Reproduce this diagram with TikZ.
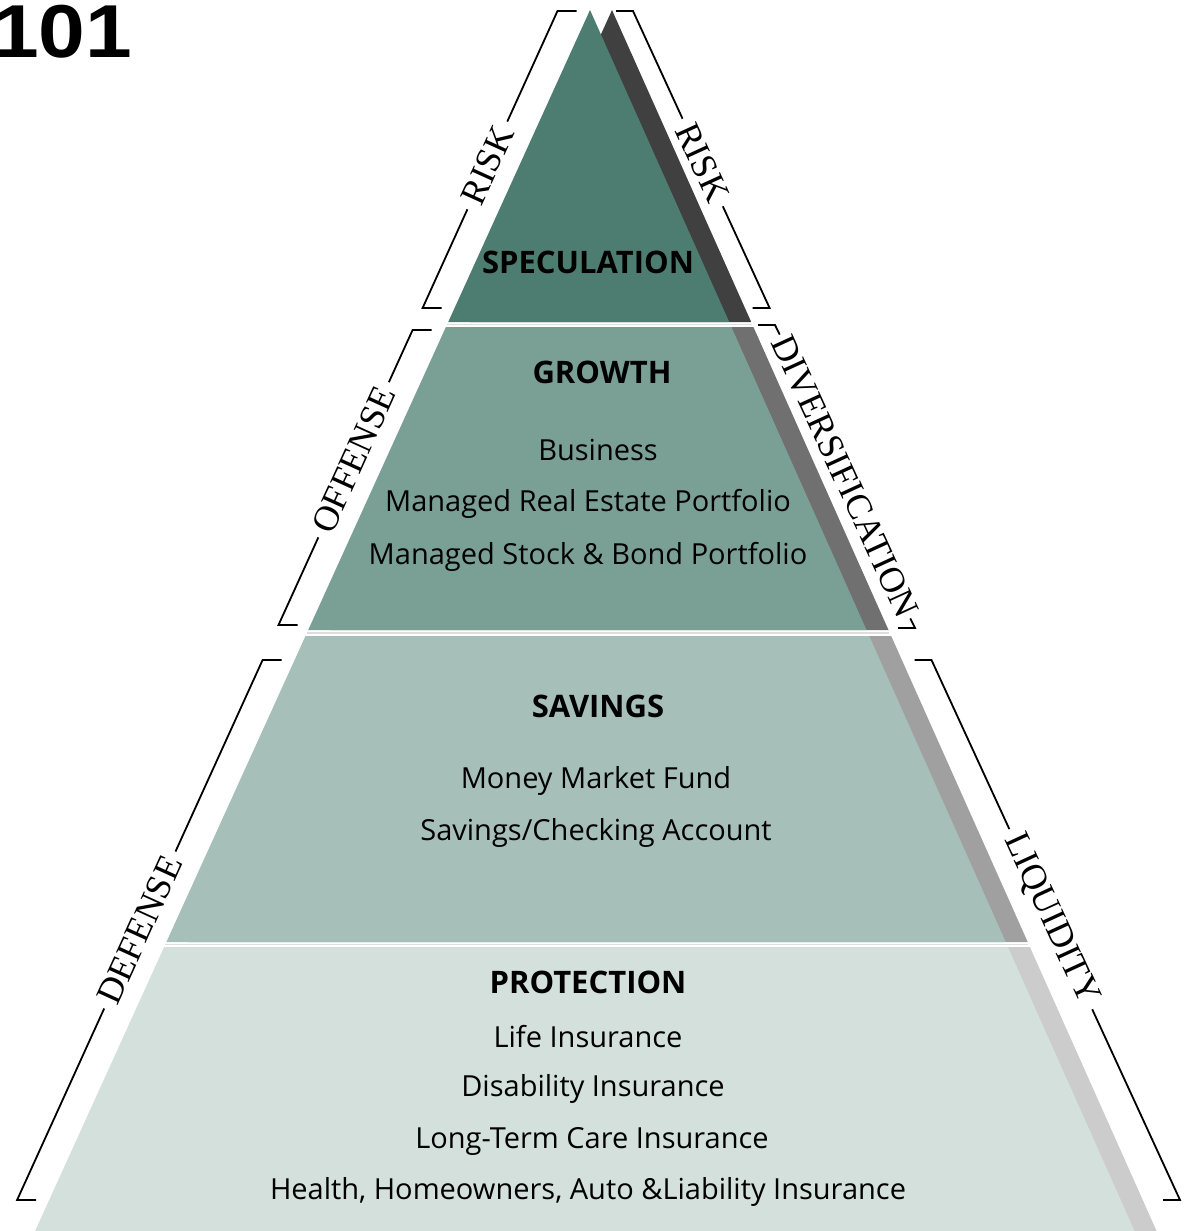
\documentclass[tikz,border=0pt]{standalone}
\usepackage{fontspec}
\setmainfont{Liberation Serif}
\newfontfamily\bandfont{Open Sans}
\newfontfamily\numfont{Liberation Sans}
\usetikzlibrary{calc}
\definecolor{specC}{HTML}{4D7D70}
\definecolor{growC}{HTML}{7AA096}
\definecolor{saveC}{HTML}{A6BFB8}
\definecolor{protC}{HTML}{D3E0DC}
\definecolor{shA}{HTML}{404040}
\definecolor{shB}{HTML}{707070}
\definecolor{shC}{HTML}{A0A0A0}
\definecolor{shD}{HTML}{CCCCCC}
\definecolor{gapC}{HTML}{DEDEDE}
\tikzset{
  bracketline/.style={line width=1.8pt, black},
  gapline/.style={line width=1.2pt, gapC},
  sidelabel/.style={font=\fontsize{36}{36}\selectfont, inner xsep=7pt, inner ysep=0pt},
  bandtitle/.style={font=\bandfont\bfseries\fontsize{31}{31}\selectfont, inner sep=0pt},
  banditem/.style={font=\bandfont\fontsize{29}{29}\selectfont, inner sep=0pt},
}
\begin{document}
\begin{tikzpicture}[x=1pt,y=-1pt]
\useasboundingbox (0,0) rectangle (1186,1231);

% ---- shadows (offset copies)
\fill[shA] (612,10) -- (470.2,322) -- (751.2,322) -- cycle;
\fill[shB] (467.9,327) -- (753.4,327) -- (888.5,630) -- (330.2,630) -- cycle;
\fill[shC] (327.5,636) -- (891.2,636) -- (1027.7,942) -- (188.4,942) -- cycle;
\fill[shD] (186.1,947) -- (1029.9,947) -- (1160.6,1240) -- (53,1240) -- cycle;

% ---- thin lines in the gaps between bands
\draw[gapline] (447,324.5) -- (752,324.5);
\draw[gapline] (307,633) -- (889,633);
\draw[gapline] (165,944.5) -- (1028,944.5);

% ---- bands
\fill[specC] (590,10) -- (448.2,322) -- (729.2,322) -- cycle;
\fill[growC] (445.9,327) -- (731.4,327) -- (866.5,630) -- (308.2,630) -- cycle;
\fill[saveC] (305.5,636) -- (869.2,636) -- (1005.7,942) -- (166.4,942) -- cycle;
\fill[protC] (164.1,947) -- (1007.9,947) -- (1138.6,1240) -- (31,1240) -- cycle;

% ---- band texts
\node[bandtitle] (spec) at (588,262) {SPECULATION};
\node[bandtitle] (grow) at (602,372) {GROWTH};
\node[banditem] (g1) at (598,450) {Business};
\node[banditem] (g2) at (588,504) {Managed Real Estate Portfolio};
\node[banditem] (g3) at (588,557) {Managed Stock \& Bond Portfolio};
\node[bandtitle] (save) at (598,706) {SAVINGS};
\node[banditem] (s1) at (596,781) {Money Market Fund};
\node[banditem] (s2) at (596,833) {Savings/Checking Account};
\node[bandtitle] (prot) at (588,982) {PROTECTION};
\node[banditem] (p1) at (588,1037) {Life Insurance};
\node[banditem] (p2) at (593,1089) {Disability Insurance};
\node[banditem] (p3) at (592,1141) {Long-Term Care Insurance};
\node[banditem] (p4) at (588,1192) {Health, Homeowners, Auto \&Liability Insurance};

% ---- left brackets
\coordinate (lrT) at (557.5,11);  \coordinate (lrB) at (422.6,308);
\node[sidelabel, rotate=65.57] (lrisk) at ($(lrT)!0.52!(lrB)$) {RISK};
\draw[bracketline] ($(lrT)+(19,0)$) -- (lrT) -- (lrisk.east);
\draw[bracketline] (lrisk.west) -- (lrB) -- ++(19,0);

\coordinate (offT) at (412.6,330); \coordinate (offB) at (278.5,625);
\node[sidelabel, rotate=65.57] (off) at ($(offT)!0.44!(offB)$) {OFFENSE};
\draw[bracketline] ($(offT)+(19,0)$) -- (offT) -- (off.east);
\draw[bracketline] (off.west) -- (offB) -- ++(19,0);

\coordinate (defT) at (262.6,660); \coordinate (defB) at (17.1,1200);
\node[sidelabel, rotate=65.57] (def) at ($(defT)!0.5!(defB)$) {DEFENSE};
\draw[bracketline] ($(defT)+(19,0)$) -- (defT) -- (def.east);
\draw[bracketline] (def.west) -- (defB) -- ++(19,0);

% ---- right brackets
\coordinate (rrT) at (633,11); \coordinate (rrB) at (769.6,308);
\node[sidelabel, rotate=-65.3] (rrisk) at ($(rrT)!0.51!(rrB)$) {RISK};
\draw[bracketline] ($(rrT)+(-17,0)$) -- (rrT) -- (rrisk.west);
\draw[bracketline] (rrisk.east) -- (rrB) -- ++(-17,0);

\coordinate (divT) at (775,325); \coordinate (divB) at (915,628);
\node[sidelabel, rotate=-65.3, inner xsep=3pt] (div) at ($(divT)!0.5!(divB)$) {DIVERSIFICATION};
\draw[bracketline] ($(divT)+(-17,0)$) -- (divT) -- (div.west);
\draw[bracketline] (div.east) -- (divB) -- ++(-17,0);

\coordinate (liqT) at (931.5,660); \coordinate (liqB) at (1180,1200);
\node[sidelabel, rotate=-65.3] (liq) at ($(liqT)!0.48!(liqB)$) {LIQUIDITY};
\draw[bracketline] ($(liqT)+(-17,0)$) -- (liqT) -- (liq.west);
\draw[bracketline] (liq.east) -- (liqB) -- ++(-17,0);

% ---- heading
\node[anchor=base west, inner sep=0pt, xscale=1.12, font=\numfont\bfseries\fontsize{75}{75}\selectfont] (num) at (-8,58) {101};
\end{tikzpicture}
\end{document}
